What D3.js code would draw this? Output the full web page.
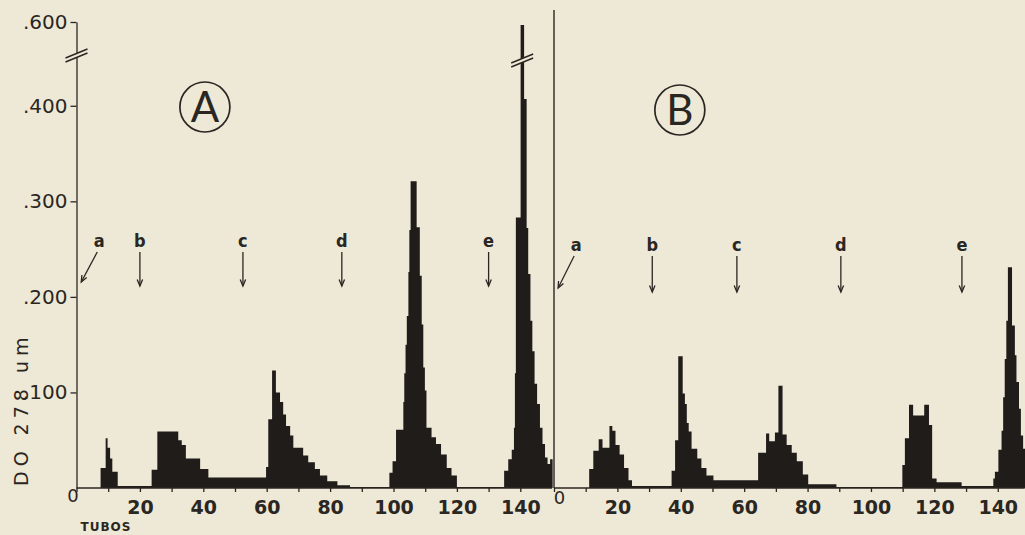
<!DOCTYPE html>
<html>
<head>
<meta charset="utf-8">
<script src="https://cdn.jsdelivr.net/npm/d3@7"></script>
<style>
  body { margin: 0; background: #eee8d6; }
  svg { display: block; }
  .tick text { font-family: "DejaVu Sans", sans-serif; fill: #2a2622; }
  .axis path, .axis line { stroke: #2a2622; stroke-width: 1.3; }
</style>
</head>
<body>
<svg id="chart"></svg>
<script>
// step start (tube number) and optical density, panel A
const tubesA = [0, 7.6, 9.2, 9.8, 10.6, 11.3, 13.0, 23.7, 25.5, 32.1, 33.2, 34.5, 39.0, 41.6,
  59.8, 60.5, 61.7, 62.9, 64.2, 65.2, 66.1, 67.4, 68.4, 71.5, 73.1, 75.2, 76.8, 79.1, 82.3, 86.3,
  98.7, 99.7, 100.8, 103.1, 103.4, 103.8, 104.2, 104.7, 105.0, 105.4, 107.3, 108.3, 108.9, 109.4,
  109.9, 110.4, 112.0, 113.4, 115.0, 116.8, 118.3, 120.0,
  134.9, 136.2, 137.3, 138.0, 138.3, 138.6, 140.1, 141.2, 142.0, 142.5, 143.2, 143.8, 144.5, 145.3,
  146.2, 147.0, 147.8, 148.6, 149.4, 150.2];
const doA = [0, 0.021, 0.052, 0.042, 0.031, 0.017, 0.002, 0.019, 0.059, 0.050, 0.045, 0.031, 0.020, 0.011,
  0.022, 0.072, 0.123, 0.100, 0.090, 0.077, 0.065, 0.055, 0.042, 0.034, 0.027, 0.020, 0.013, 0.007, 0.003, 0.001,
  0.016, 0.028, 0.061, 0.090, 0.120, 0.150, 0.180, 0.226, 0.270, 0.321, 0.273, 0.222, 0.171, 0.126,
  0.102, 0.063, 0.053, 0.046, 0.035, 0.021, 0.013, 0.001,
  0.018, 0.030, 0.040, 0.063, 0.120, 0.283, 0.587, 0.407, 0.272, 0.224, 0.175, 0.143, 0.109, 0.088,
  0.063, 0.046, 0.032, 0.025, 0.030, 0];

// panel B
const tubesB = [0, 11.1, 12.4, 14.1, 15.3, 17.5, 18.4, 19.4, 20.7, 22.1, 23.5, 24.6,
  37.1, 38.2, 39.2, 40.6, 41.3, 41.9, 42.5, 43.4, 45.2, 46.5, 48.1, 50.3,
  64.4, 66.9, 67.9, 69.7, 70.8, 72.1, 73.4, 75.0, 76.6, 78.5, 80.2, 89.1,
  109.9, 110.7, 112.0, 113.3, 116.8, 118.3, 119.3, 120.7, 128.6,
  138.6, 139.1, 140.2, 141.2, 141.7, 142.2, 142.7, 143.2, 144.5, 145.4, 145.9, 146.7, 147.3, 148.0, 148.6];
const doB = [0, 0.020, 0.039, 0.051, 0.042, 0.065, 0.060, 0.045, 0.035, 0.021, 0.008, 0.002,
  0.018, 0.050, 0.138, 0.099, 0.088, 0.068, 0.059, 0.041, 0.031, 0.021, 0.013, 0.008,
  0.037, 0.057, 0.049, 0.058, 0.107, 0.056, 0.045, 0.037, 0.028, 0.014, 0.004, 0.001,
  0.024, 0.052, 0.087, 0.076, 0.087, 0.066, 0.010, 0.006, 0.002,
  0.010, 0.017, 0.040, 0.060, 0.095, 0.135, 0.175, 0.231, 0.170, 0.139, 0.111, 0.083, 0.055, 0.041, 0.041];

const xTicks = d3.range(0, 150, 10);
const xLabels = [0, 20, 40, 60, 80, 100, 120, 140];
const yTicks = [0.1, 0.2, 0.3, 0.4, 0.6];
const markerLetters = ['a', 'b', 'c', 'd', 'e'];
const markerTubesA = [1.5, 20, 52.5, 83.7, 130];
const markerTubesB = [1.3, 31, 57.7, 90.5, 128.7];

const width = 1025, height = 535;
const ink = '#2a2622', paper = '#eee8d6', fillInk = '#1f1c1a';

const svg = d3.select('#chart')
    .attr('width', width)
    .attr('height', height)
    .style('background', paper);

// y axis is broken between .450 and .600
const y = d3.scaleLinear()
    .domain([0, 0.45, 0.6])
    .range([488, 58, 22]);
const yBreak = 0.45;

const xA = d3.scaleLinear().domain([0, 150]).range([76.5, 552]);
const xB = d3.scaleLinear().domain([0, 148.5]).range([554, 1024.7]);

function drawPanel(x, tubes, values, markers, opts) {
  const data = tubes.map((t, i) => ({t: t, v: values[i]}));

  const area = d3.area()
      .curve(d3.curveStepAfter)
      .x(d => x(d.t))
      .y0(y(0))
      .y1(d => y(d.v));

  svg.append('path')
      .datum(data)
      .attr('d', area)
      .attr('fill', fillInk);

  // x axis
  const xAxis = d3.axisBottom(x)
      .tickValues(xTicks)
      .tickSize(4)
      .tickPadding(9)
      .tickSizeOuter(0)
      .tickFormat(d => xLabels.includes(d) ? d : '');

  const gx = svg.append('g')
      .attr('class', 'axis')
      .attr('transform', `translate(0,${y(0)})`)
      .call(xAxis);
  gx.select('.domain').attr('d', `M${x.range()[0]},0H${x.range()[1]}`);
  gx.selectAll('.tick text')
      .style('font-size', '19px')
      .style('font-weight', 'bold');
  gx.selectAll('.tick text').filter(d => d === 0)
      .attr('x', opts.zeroDx)
      .attr('y', opts.zeroDy)
      .style('font-weight', 'normal')
      .style('font-size', '18px');

  // letter markers with arrows
  const mk = svg.append('g');
  markers.forEach((t, i) => {
    const tipX = x(t);
    const slanted = i === 0;
    const x0 = slanted ? tipX + 16 : tipX;
    const yTop = opts.arrowTop, yTip = opts.arrowTip;
    mk.append('text')
        .attr('x', slanted ? x0 + 2 : x0)
        .attr('y', yTop - 5)
        .attr('text-anchor', 'middle')
        .style('font-family', '"DejaVu Sans Condensed", "DejaVu Sans", sans-serif')
        .style('font-size', '18px')
        .style('font-weight', 'bold')
        .attr('fill', ink)
        .text(markerLetters[i]);
    const tipY = slanted ? yTip - 4 : yTip;
    mk.append('line')
        .attr('x1', x0).attr('y1', yTop)
        .attr('x2', tipX).attr('y2', tipY)
        .attr('stroke', ink).attr('stroke-width', 1.3);
    // arrow head
    const ang = Math.atan2(tipY - yTop, tipX - x0);
    const hl = 7, ha = 0.4;
    const p1 = [tipX - hl * Math.cos(ang - ha), tipY - hl * Math.sin(ang - ha)];
    const p2 = [tipX - hl * Math.cos(ang + ha), tipY - hl * Math.sin(ang + ha)];
    mk.append('path')
        .attr('d', `M${p1}L${tipX},${tipY}L${p2}`)
        .attr('fill', 'none')
        .attr('stroke', ink)
        .attr('stroke-width', 1.3);
  });

  // circled panel letter
  const cx = x(opts.labelTube);
  svg.append('circle')
      .attr('cx', cx).attr('cy', opts.labelY).attr('r', 25)
      .attr('fill', 'none').attr('stroke', ink).attr('stroke-width', 1.7);
  svg.append('text')
      .attr('x', cx).attr('y', opts.labelY + 15)
      .attr('text-anchor', 'middle')
      .style('font-family', 'Lato, "Open Sans", sans-serif')
      .style('font-size', '42px')
      .attr('fill', ink)
      .text(opts.label);
}

function breakMark(cx, cy) {
  const g = svg.append('g');
  g.append('path')
      .attr('d', `M${cx - 11},${cy + 6}L${cx + 11},${cy - 3}L${cx + 11},${cy - 7}L${cx - 11},${cy + 2}Z`)
      .attr('fill', paper);
  [2, -2].forEach(o => {
    g.append('line')
        .attr('x1', cx - 11).attr('y1', cy + 4 + o)
        .attr('x2', cx + 11).attr('y2', cy - 5 + o)
        .attr('stroke', ink).attr('stroke-width', 1.4);
  });
}

drawPanel(xA, tubesA, doA, markerTubesA,
  {zeroDx: -4, zeroDy: 1, arrowTop: 252, arrowTip: 286, labelTube: 40.5, labelY: 107, label: 'A'});
drawPanel(xB, tubesB, doB, markerTubesB,
  {zeroDx: 5, zeroDy: 3, arrowTop: 256, arrowTip: 292, labelTube: 39.7, labelY: 110, label: 'B'});

// y axis of panel A
const yAxis = d3.axisLeft(y)
    .tickValues(yTicks)
    .tickSize(6)
    .tickPadding(3)
    .tickSizeOuter(0)
    .tickFormat(d => d3.format('.3f')(d).slice(1));

const gy = svg.append('g')
    .attr('class', 'axis')
    .attr('transform', `translate(${xA(0)},0)`)
    .call(yAxis);
gy.selectAll('.tick text').style('font-size', '20px');

// divider / y line of panel B
svg.append('line')
    .attr('x1', xB(0)).attr('x2', xB(0))
    .attr('y1', y(0.6) - 12).attr('y2', y(0))
    .attr('stroke', ink).attr('stroke-width', 1.4);

breakMark(xA(0), y(yBreak) - 2);
breakMark(xA(140.6), y(yBreak) + 3);

// axis titles
svg.append('text')
    .attr('transform', `translate(28,${y(0) - 2}) rotate(-90)`)
    .style('font-family', '"DejaVu Sans", sans-serif')
    .style('font-size', '19px')
    .style('letter-spacing', '5px')
    .attr('fill', ink)
    .text('DO  278 um');

svg.append('text')
    .attr('x', 106).attr('y', 531)
    .attr('text-anchor', 'middle')
    .style('font-family', '"DejaVu Sans", sans-serif')
    .style('font-size', '12px')
    .style('font-weight', 'bold')
    .style('letter-spacing', '1px')
    .attr('fill', ink)
    .text('TUBOS');
</script>
</body>
</html>
